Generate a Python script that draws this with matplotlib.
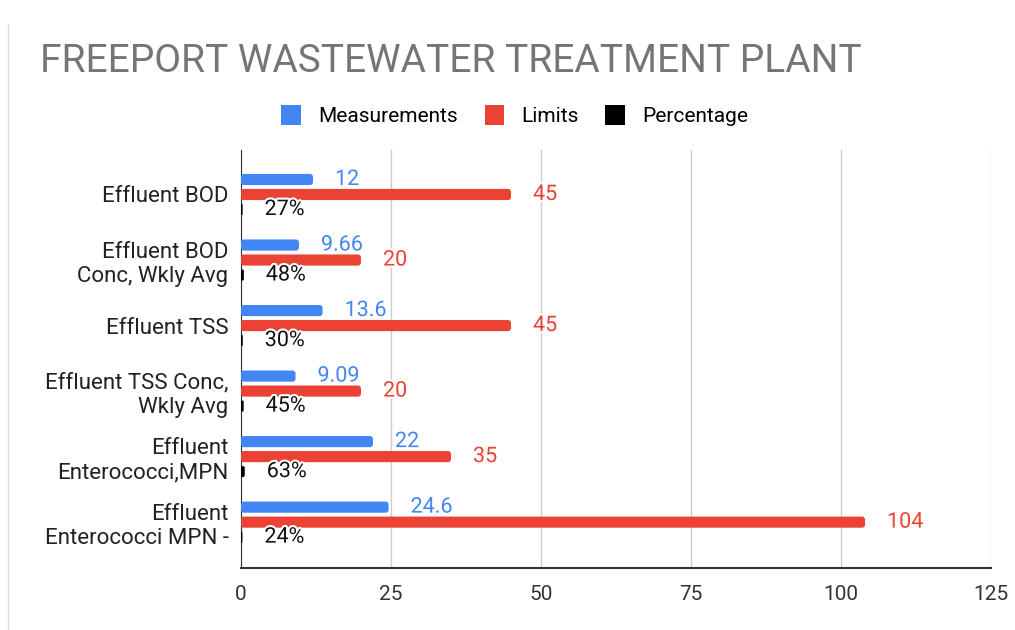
import matplotlib
matplotlib.use("Agg")
import matplotlib.pyplot as plt
import matplotlib.patheffects as pe
from matplotlib.patches import FancyBboxPatch
from matplotlib.lines import Line2D
import numpy as np

categories = [
    "Effluent BOD",
    "Effluent BOD\nConc, Wkly Avg",
    "Effluent TSS",
    "Effluent TSS Conc,\nWkly Avg",
    "Effluent\nEnterococci,MPN",
    "Effluent\nEnterococci MPN -",
]
measurements = [12, 9.66, 13.6, 9.09, 22, 24.6]
limits = [45, 20, 45, 20, 35, 104]
percentage = [0.27, 0.48, 0.30, 0.45, 0.63, 0.24]
measure_labels = ["12", "9.66", "13.6", "9.09", "22", "24.6"]
limit_labels = ["45", "20", "45", "20", "35", "104"]
pct_labels = ["27%", "48%", "30%", "45%", "63%", "24%"]
xticks = [0, 25, 50, 75, 100, 125]

BLUE = "#4285F4"
RED = "#EA4335"
BLACK = "#000000"

plt.rcParams["font.family"] = ["Roboto", "DejaVu Sans"]

fig = plt.figure(figsize=(10.15, 6.3), dpi=100)
ax = fig.add_axes([0.2374, 0.0984, 0.739, 0.6636])

y = np.arange(len(categories))
off = 0.229
h = 0.17

series = [
    (measurements, measure_labels, BLUE, -off, "Measurements"),
    (limits, limit_labels, RED, 0, "Limits"),
    (percentage, pct_labels, BLACK, off, "Percentage"),
]

# data units per pixel, for rounded bar ends
aspect = (6.4 / 418) / (125 / 750)

for vals, labs, col, dy, name in series:
    bars = ax.barh(y + dy, vals, height=h, color=col, label=name)
    for b, lab in zip(bars, labs):
        x0, y0, w, hh = b.get_x(), b.get_y(), b.get_width(), b.get_height()
        b.set_visible(False)
        r = min(0.5, w / 2)
        ax.add_patch(FancyBboxPatch((x0, y0), w, hh,
                                    boxstyle=f"round,pad=0,rounding_size={r}",
                                    mutation_aspect=aspect, fc=col, ec="none",
                                    zorder=3))
        ax.annotate(lab, (x0 + w, y0 + hh / 2), xytext=(22, 0),
                    textcoords="offset pixels",
                    ha="left", va="center", fontsize=15.5,
                    color=col if col != BLACK else "#111111", zorder=4,
                    path_effects=[pe.withStroke(linewidth=3, foreground="white")])

ax.set_xlim(0, 125)
ax.set_ylim(5.7, -0.68)
ax.set_xticks(xticks)
ax.set_yticks(y)
ax.set_yticklabels(categories, fontsize=16, color="#222222")
ax.tick_params(axis="x", labelsize=15, colors="#333333", length=0, pad=12)
ax.tick_params(axis="y", length=0, pad=9)
ax.grid(axis="x", color="#cccccc", linewidth=1, zorder=0)
ax.set_axisbelow(True)
for s in ["top", "right"]:
    ax.spines[s].set_visible(False)
ax.spines["left"].set_color("#333333")
ax.spines["bottom"].set_color("#333333")
ax.spines["bottom"].set_linewidth(1.5)

fig.text(0.039, 0.903, "FREEPORT WASTEWATER TREATMENT PLANT", fontsize=28,
         color="#757575", ha="left", va="center")

handles = [FancyBboxPatch((0, 0), 1, 1, boxstyle="round,pad=0,rounding_size=0.15",
                          fc=c, ec="none") for c in [BLUE, RED, BLACK]]
fig.legend(handles, ["Measurements", "Limits", "Percentage"], loc="center",
           bbox_to_anchor=(0.507, 0.816), ncol=3, frameon=False, fontsize=15,
           handlelength=0.95, handleheight=1.1, columnspacing=1.3, handletextpad=0.8)

fig.add_artist(Line2D([0.008, 0.008], [0.0, 0.96], transform=fig.transFigure,
                      color="#dddddd", linewidth=1))

fig.savefig("out.png", dpi=100, facecolor="white")
